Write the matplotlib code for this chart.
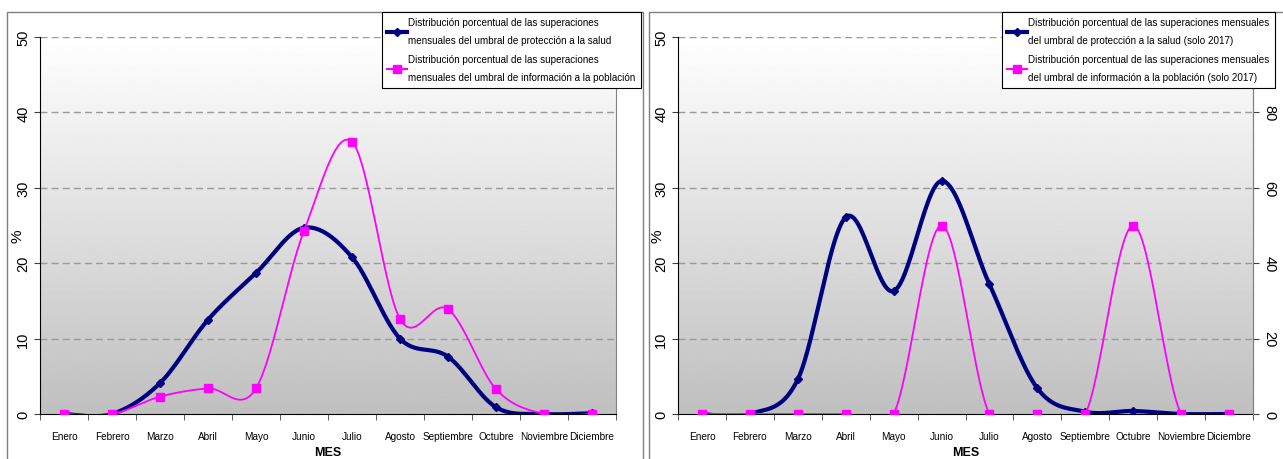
import numpy as np
import matplotlib
matplotlib.use("Agg")
import matplotlib.pyplot as plt
from matplotlib.patches import Rectangle
from matplotlib.lines import Line2D
from matplotlib import font_manager

months = ["Enero", "Febrero", "Marzo", "Abril", "Mayo", "Junio", "Julio",
          "Agosto", "Septiembre", "Octubre", "Noviembre", "Diciembre"]

salud_all = [0.0, 0.0, 4.1, 12.5, 18.7, 24.7, 20.8, 10.0, 7.6, 0.9, 0.0, 0.1]
info_all = [0.0, 0.0, 2.3, 3.4, 3.4, 24.3, 36.1, 12.6, 13.9, 3.3, 0.0, 0.0]
salud_2017 = [0.0, 0.0, 4.6, 26.1, 16.3, 30.9, 17.2, 3.4, 0.3, 0.4, 0.0, 0.0]
info_2017 = [0.0, 0.0, 0.0, 0.0, 0.0, 50.0, 0.0, 0.0, 0.0, 50.0, 0.0, 0.0]

lbl_salud_all = "Distribución porcentual de las superaciones\nmensuales del umbral de protección a la salud"
lbl_info_all = "Distribución porcentual de las superaciones\nmensuales del umbral de información a la población"
lbl_salud_17 = "Distribución porcentual de las superaciones mensuales\ndel umbral de protección a la salud (solo 2017)"
lbl_info_17 = "Distribución porcentual de las superaciones mensuales\ndel umbral de información a la población (solo 2017)"

avail = {f.name for f in font_manager.fontManager.ttflist}
narrow = "Liberation Sans Narrow" if "Liberation Sans Narrow" in avail else "Liberation Sans"
plt.rcParams['font.family'] = ['Liberation Sans', 'DejaVu Sans']

W, H = 1283, 460
fig = plt.figure(figsize=(W / 100, H / 100), dpi=100)

BLUE = "#000080"
MAG = "#ff00ff"


def smooth(y):
    """Excel-like smoothed line (Catmull-Rom Bezier) through the points."""
    x = np.arange(len(y), dtype=float)
    y = np.asarray(y, dtype=float)
    pts = np.column_stack([x, y])
    out = []
    n = len(pts)
    for i in range(n - 1):
        p0 = pts[i - 1] if i > 0 else pts[i]
        p1 = pts[i]
        p2 = pts[i + 1]
        p3 = pts[i + 2] if i + 2 < n else pts[i + 1]
        c1 = p1 + (p2 - p0) / 6.0
        c2 = p2 - (p3 - p1) / 6.0
        t = np.linspace(0, 1, 30)[:, None]
        seg = ((1 - t) ** 3) * p1 + 3 * ((1 - t) ** 2) * t * c1 + 3 * (1 - t) * t ** 2 * c2 + t ** 3 * p2
        out.append(seg if i == 0 else seg[1:])
    s = np.vstack(out)
    return s[:, 0], s[:, 1]


def px(x0, y0, x1, y1):
    return [x0 / W, 1 - y1 / H, (x1 - x0) / W, (y1 - y0) / H]


def setup(ax, ylab_x):
    grad = np.linspace(1.0, 0.75, 256)[:, None]
    ax.imshow(grad, cmap="gray", vmin=0, vmax=1, aspect="auto",
              extent=[0, 1, 0, 1], transform=ax.transAxes, zorder=0)
    ax.set_xlim(-0.5, 11.5)
    ax.set_ylim(0, 50)
    ax.set_yticks([0, 10, 20, 30, 40, 50])
    for v in [10, 20, 30, 40, 50]:
        ax.axhline(v, color="#9a9a9a", lw=1.0, ls=(0, (5, 3)), zorder=1)
    ax.set_xticks(np.arange(12))
    ax.set_xticklabels(months, fontsize=7.2, family=[narrow, 'DejaVu Sans'])
    ax.set_xticks(np.arange(-0.5, 12, 1), minor=True)
    ax.tick_params(axis="x", which="major", length=0, pad=12)
    ax.tick_params(axis="x", which="minor", length=4, color="#404040")
    ax.tick_params(axis="y", length=4, labelsize=10.5, pad=3, color="#404040")
    for lab in ax.get_yticklabels():
        lab.set_rotation(90)
        lab.set_va("center")
    ax.spines["top"].set_visible(False)
    ax.spines["left"].set_color("black")
    ax.spines["bottom"].set_color("black")
    ax.spines["right"].set_color("#808080")
    ax.set_xlabel("MES", fontsize=9, fontweight="bold", labelpad=4)
    fig.text(ylab_x / W, 1 - 236 / H, "%", rotation=90, fontsize=11,
             ha="center", va="center")


# panel frames
fig.patches.append(Rectangle((7 / W, -0.05), (643 - 7) / W, 1.05 - 13 / H,
                             transform=fig.transFigure, fill=False, ec="#808080", lw=1.0))
fig.patches.append(Rectangle((649 / W, -0.05), (1290 - 649) / W, 1.05 - 13 / H,
                             transform=fig.transFigure, fill=False, ec="#808080", lw=1.0))

# left chart
ax1 = fig.add_axes(px(40, 38, 616, 415))
setup(ax1, 18)
xs, ys = smooth(salud_all)
ax1.plot(xs, ys, color=BLUE, lw=3, zorder=3)
ax1.plot(np.arange(12), salud_all, ls="none", marker="D", ms=4, color=BLUE, zorder=4)
xs, ys = smooth(info_all)
ax1.plot(xs, ys, color=MAG, lw=1.3, zorder=5)
ax1.plot(np.arange(12), info_all, ls="none", marker="s", ms=6, color=MAG, zorder=6)

# right chart
ax2 = fig.add_axes(px(678, 38, 1253, 415))
setup(ax2, 658)
ax3 = ax2.twinx()
ax3.set_ylim(0, 100)
ax3.set_yticks([0, 20, 40, 60, 80])
ax3.tick_params(axis="y", length=4, labelsize=10.5, pad=3, color="#404040")
for lab in ax3.get_yticklabels():
    lab.set_rotation(-90)
    lab.set_va("center")
for s in ["top", "left", "bottom"]:
    ax3.spines[s].set_visible(False)
ax3.spines["right"].set_color("#808080")

xs, ys = smooth(salud_2017)
ax2.plot(xs, ys, color=BLUE, lw=3, zorder=3)
ax2.plot(np.arange(12), salud_2017, ls="none", marker="D", ms=4, color=BLUE, zorder=4)
xs, ys = smooth(info_2017)
ax3.plot(xs, ys, color=MAG, lw=1.3, zorder=5)
ax3.plot(np.arange(12), info_2017, ls="none", marker="s", ms=6, color=MAG, zorder=6)

# legends
h_blue = Line2D([], [], color=BLUE, lw=3, marker="D", ms=4)
h_mag = Line2D([], [], color=MAG, lw=1.5, marker="s", ms=6)

for handles, labels, (x0, y0) in [
    ([h_blue, h_mag], [lbl_salud_all, lbl_info_all], (382, 13)),
    ([h_blue, h_mag], [lbl_salud_17, lbl_info_17], (1002, 13)),
]:
    leg = fig.legend(handles, labels, loc="upper left",
                     bbox_to_anchor=(x0 / W, 1 - y0 / H), bbox_transform=fig.transFigure,
                     frameon=True, fancybox=False, edgecolor="black", framealpha=1,
                     prop={"family": [narrow, "DejaVu Sans"], "size": 7.1},
                     handlelength=2.0, handletextpad=0.1, borderpad=0.55,
                     labelspacing=0.9, borderaxespad=0)
    leg.get_frame().set_linewidth(0.8)
    for t in leg.get_texts():
        t.set_linespacing(2.0)

fig.savefig("out.png", dpi=100)
